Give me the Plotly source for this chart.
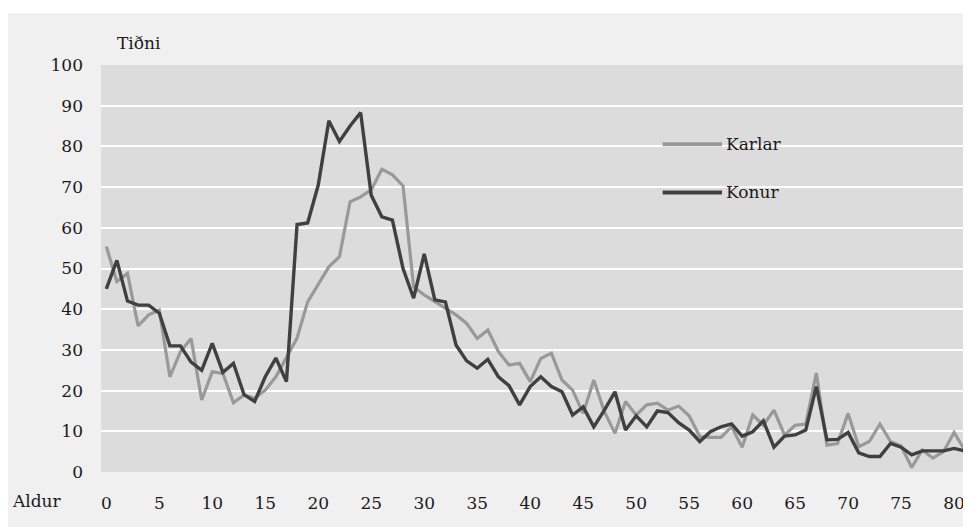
import plotly.graph_objects as go

ages = list(range(0, 82))
karlar = [55.4, 46.8, 48.8, 35.9, 38.6, 39.8, 23.4, 29.6, 32.8, 17.7,
          24.6, 24.2, 17.0, 18.9, 18.1, 20.1, 23.4, 28.3, 32.9, 41.8,
          46.2, 50.4, 52.9, 66.4, 67.6, 69.3, 74.4, 73.0, 70.3, 45.5,
          43.5, 41.8, 40.3, 38.6, 36.5, 32.8, 34.9, 29.6, 26.3, 26.7,
          22.2, 27.9, 29.2, 22.6, 20.1, 14.4, 22.6, 14.8, 9.5, 17.3,
          14.0, 16.5, 16.9, 15.2, 16.2, 13.8, 8.7, 8.5, 8.5, 11.1,
          6.1, 14.0, 11.5, 15.2, 9.1, 11.5, 11.8, 24.3, 6.6, 7.0,
          14.4, 6.2, 7.5, 11.8, 7.5, 6.4, 1.1, 5.4, 3.4, 5.0,
          9.7, 5.4]
konur = [45.0, 52.0, 42.0, 41.0, 41.0, 39.0, 31.0, 31.0, 27.0, 25.0,
         31.6, 24.5, 26.7, 19.0, 17.3, 23.4, 28.0, 22.2, 60.8, 61.2,
         70.5, 86.3, 81.2, 85.0, 88.3, 68.0, 62.7, 61.9, 50.0, 42.7,
         53.6, 42.3, 41.8, 31.2, 27.3, 25.5, 27.7, 23.4, 21.2, 16.5,
         21.0, 23.4, 21.0, 19.7, 14.0, 16.0, 11.1, 15.2, 19.7, 10.3,
         13.8, 11.1, 15.0, 14.6, 12.1, 10.3, 7.5, 9.9, 11.1, 11.8,
         8.8, 9.9, 12.6, 6.1, 8.8, 9.1, 10.3, 21.0, 7.9, 8.0,
         9.7, 4.7, 3.8, 3.8, 7.0, 6.1, 4.2, 5.2, 5.2, 5.2,
         5.8, 5.2]
x_ticks = list(range(0, 81, 5))
y_ticks = list(range(0, 101, 10))
series_names = ["Karlar", "Konur"]
colors = ["#999999", "#404040"]

FONT = "DejaVu Serif"
FS = 17
TXT = "#1a1a1a"
PLOT_H = 407
fig = go.Figure()
fig.add_trace(go.Scatter(x=ages, y=karlar, mode="lines", name=series_names[0],
                         line=dict(color=colors[0], width=3.2), showlegend=False))
fig.add_trace(go.Scatter(x=ages, y=konur, mode="lines", name=series_names[1],
                         line=dict(color=colors[1], width=3.4), showlegend=False))

shapes = [
    # white strip above the light outer background
    dict(type="rect", xref="paper", yref="paper", x0=-0.2, x1=1.1, y0=1 + 52 / PLOT_H, y1=1.3,
         fillcolor="white", line=dict(width=0), layer="above"),
    # legend box covering gridlines
    dict(type="rect", xref="x", yref="y", x0=50.8, x1=68.9, y0=64.5, y1=85.5,
         fillcolor="#dcdcdc", line=dict(width=0), layer="below"),
]
leg_y = [80.5, 68.7]
for i, name in enumerate(series_names):
    shapes.append(dict(type="line", xref="x", yref="y", x0=52.5, x1=58.1, y0=leg_y[i], y1=leg_y[i],
                       line=dict(color=colors[i], width=4), layer="above"))
annotations = [
    dict(text=series_names[i], xref="x", yref="y", x=58.3, y=leg_y[i], xanchor="left",
         yanchor="middle", showarrow=False, font=dict(family=FONT, size=FS, color=TXT))
    for i in range(2)
]
annotations += [
    dict(text="Tiðni", xref="paper", yref="paper", x=(115 - 101) / 869, y=(472 - 43) / PLOT_H,
         xanchor="left", yanchor="middle", showarrow=False,
         font=dict(family=FONT, size=FS, color=TXT)),
    dict(text="Aldur", xref="paper", yref="paper", x=(10 - 101) / 869, y=(472 - 501) / PLOT_H,
         xanchor="left", yanchor="middle", showarrow=False,
         font=dict(family=FONT, size=FS, color=TXT)),
]

fig.update_layout(
    width=963, height=519,
    margin=dict(l=93, r=1, t=57, b=55),
    paper_bgcolor="#f0f0f0", plot_bgcolor="#dcdcdc",
    font=dict(family=FONT, size=FS, color=TXT),
    shapes=shapes, annotations=annotations,
    xaxis=dict(range=[-0.5, 81.5], tickvals=x_ticks, showgrid=False, zeroline=False,
               showline=False, ticks="", ticklabelstandoff=19,
               tickfont=dict(family=FONT, size=FS, color=TXT)),
    yaxis=dict(range=[0, 100], tickvals=y_ticks, showgrid=True, gridcolor="white",
               gridwidth=2, zeroline=False, showline=False, ticks="", ticklabelstandoff=17,
               tickfont=dict(family=FONT, size=FS, color=TXT)),
)
fig.write_html("out.html")
